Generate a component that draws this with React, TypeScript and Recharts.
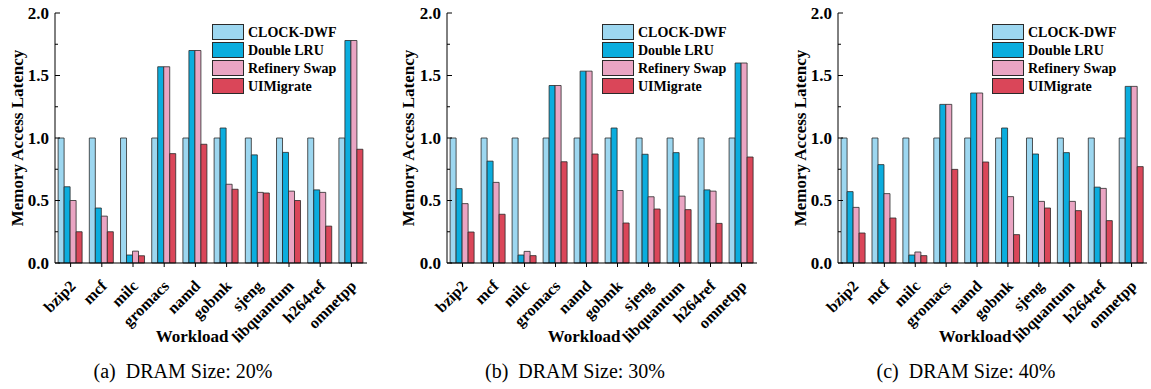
import React from 'react';
import { BarChart, Bar, XAxis, YAxis } from 'recharts';

const categories = ['bzip2', 'mcf', 'milc', 'gromacs', 'namd', 'gobmk', 'sjeng', 'libquantum', 'h264ref', 'omnetpp'];
const seriesNames = ['CLOCK-DWF', 'Double LRU', 'Refinery Swap', 'UIMigrate'];
const yTicks = [0, 0.25, 0.5, 0.75, 1, 1.25, 1.5, 1.75, 2];

const clock20 = [1, 1, 1, 1, 1, 1, 1, 1, 1, 1];
const dlru20 = [0.61, 0.44, 0.064, 1.57, 1.70, 1.08, 0.865, 0.885, 0.585, 1.78];
const rs20 = [0.50, 0.375, 0.095, 1.57, 1.70, 0.63, 0.565, 0.575, 0.565, 1.78];
const ui20 = [0.25, 0.25, 0.058, 0.875, 0.95, 0.59, 0.56, 0.50, 0.295, 0.91];

const clock30 = [1, 1, 1, 1, 1, 1, 1, 1, 1, 1];
const dlru30 = [0.595, 0.815, 0.064, 1.42, 1.535, 1.08, 0.87, 0.883, 0.585, 1.60];
const rs30 = [0.475, 0.645, 0.093, 1.42, 1.535, 0.58, 0.53, 0.535, 0.575, 1.60];
const ui30 = [0.248, 0.39, 0.059, 0.81, 0.872, 0.32, 0.432, 0.427, 0.317, 0.848];

const clock40 = [1, 1, 1, 1, 1, 1, 1, 1, 1, 1];
const dlru40 = [0.571, 0.787, 0.064, 1.269, 1.36, 1.08, 0.872, 0.883, 0.607, 1.413];
const rs40 = [0.445, 0.555, 0.088, 1.269, 1.36, 0.531, 0.493, 0.493, 0.597, 1.413];
const ui40 = [0.24, 0.36, 0.059, 0.749, 0.808, 0.227, 0.44, 0.419, 0.339, 0.771];

const captions = ['(a)  DRAM Size: 20%', '(b)  DRAM Size: 30%', '(c)  DRAM Size: 40%'];

const COLORS = ['#9dd7f0', '#0badde', '#eaa5c3', '#da4659'];
const STROKE = '#2a2a2a';
const FONT = "'Liberation Serif', 'DejaVu Serif', serif";
const SERIF = { fontFamily: FONT };

const build = (a: number[], b: number[], c: number[], d: number[]) =>
  categories.map((name, i) => ({ name, s0: a[i], s1: b[i], s2: c[i], s3: d[i] }));

const panels = [
  { data: build(clock20, dlru20, rs20, ui20), left: 0, width: 380, yw: 55, mr: 13 },
  { data: build(clock30, dlru30, rs30, ui30), left: 380, width: 385, yw: 67, mr: 8 },
  { data: build(clock40, dlru40, rs40, ui40), left: 765, width: 386, yw: 73, mr: 4 },
];

const YTick = (props: any) => {
  const { x, y, payload } = props;
  const v = payload.value as number;
  const major = Math.abs(v * 2 - Math.round(v * 2)) < 1e-6;
  return (
    <g>
      <line x1={x} x2={x + (major ? 5 : 3)} y1={y} y2={y} stroke="#000" strokeWidth={1} />
      {major && (
        <text x={x - 6} y={y} textAnchor="end" dominantBaseline="central" style={SERIF} fontWeight="bold" fontSize={17} fill="#000">
          {v.toFixed(1)}
        </text>
      )}
    </g>
  );
};

const XTick = (props: any) => {
  const { x, y, payload } = props;
  const px = x + 6;
  const py = y + 20;
  return (
    <text x={px} y={py} transform={`rotate(-45, ${px}, ${py})`} textAnchor="end" style={SERIF} fontWeight="bold" fontSize={16} fill="#000">
      {payload.value}
    </text>
  );
};

const Panel = ({ p, idx }: { p: any; idx: number }) => {
  const plotLeft = p.left + p.yw;
  const plotRight = p.left + p.width - p.mr;
  const lx = plotRight - 155 - p.left;
  return (
    <div style={{ position: 'absolute', left: p.left, top: 0, width: p.width, height: 389 }}>
      <BarChart
        width={p.width}
        height={389}
        data={p.data}
        margin={{ top: 13, right: p.mr, left: 0, bottom: 0 }}
        barCategoryGap="10%"
        barGap={0}
      >
        <XAxis
          dataKey="name"
          height={126}
          interval={0}
          tickSize={4}
          tickMargin={0}
          tickLine={{ stroke: '#000' }}
          axisLine={{ stroke: '#000' }}
          tick={<XTick />}
        />
        <XAxis xAxisId="top" dataKey="name" orientation="top" height={0} tick={false} tickLine={false} axisLine={{ stroke: '#000' }} />
        <YAxis
          domain={[0, 2]}
          ticks={yTicks}
          width={p.yw}
          tickSize={0}
          tickMargin={0}
          tickLine={false}
          axisLine={{ stroke: '#000' }}
          tick={<YTick />}
          interval={0}
        />
        <YAxis yAxisId="right" orientation="right" domain={[0, 2]} width={0} tick={false} tickLine={false} axisLine={{ stroke: '#000' }} />
        {['s0', 's1', 's2', 's3'].map((k, i) => (
          <Bar key={k} dataKey={k} name={seriesNames[i]} fill={COLORS[i]} stroke={STROKE} strokeWidth={0.8} isAnimationActive={false} />
        ))}
      </BarChart>
      <svg width={p.width} height={389} style={{ position: 'absolute', left: 0, top: 0, pointerEvents: 'none' }}>
        {seriesNames.map((n, i) => (
          <g key={n}>
            <rect x={lx + 0.5} y={24 + i * 18 + 0.5} width={31} height={15} fill={COLORS[i]} stroke={STROKE} strokeWidth={1} />
            <text x={lx + 36} y={24 + i * 18 + 8} dominantBaseline="central" style={SERIF} fontWeight="bold" fontSize={14} fill="#000">
              {n}
            </text>
          </g>
        ))}
        <text
          x={0}
          y={0}
          transform={`translate(${[17.5, 28, 35][idx]}, 138) rotate(-90)`}
          textAnchor="middle"
          dominantBaseline="central"
          style={SERIF}
          fontWeight="bold"
          fontSize={17}
          fill="#000"
        >
          Memory Access Latency
        </text>
        <text x={plotLeft - p.left + 137} y={342} textAnchor="middle" style={SERIF} fontWeight="bold" fontSize={17} fill="#000">
          Workload
        </text>
        <text x={plotLeft - p.left + 128} y={378} textAnchor="middle" style={{ ...SERIF, whiteSpace: 'pre' }} fontSize={20} fill="#000">
          {captions[idx]}
        </text>
      </svg>
    </div>
  );
}

export default function App() {
  return (
    <div style={{ position: 'absolute', left: 0, top: 0, width: 1151, height: 389, background: '#fff', overflow: 'hidden' }}>
      {panels.map((p, i) => (
        <Panel key={i} p={p} idx={i} />
      ))}
    </div>
  );
}
